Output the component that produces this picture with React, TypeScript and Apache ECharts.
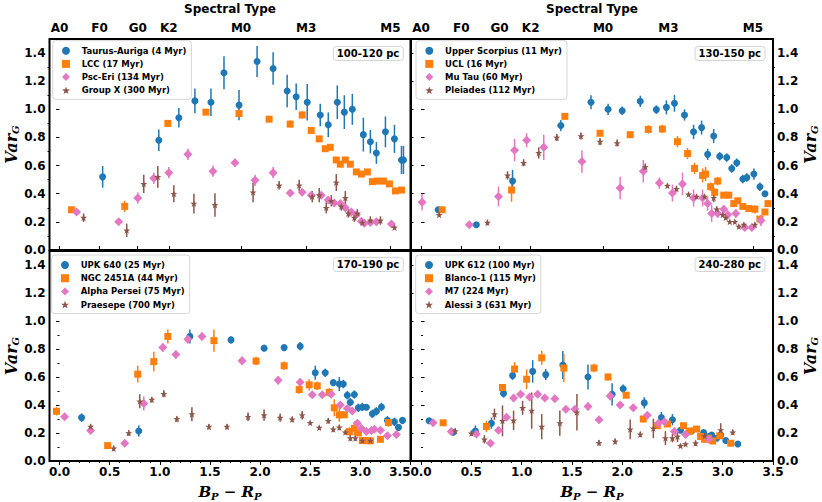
import React, { useEffect, useRef } from "react";
import * as echarts from "echarts";

// ---------- data: [B_P - R_P, Var_G, error] ----------
// Panel 1: 100-120 pc
const taurusAuriga = [[0.43,0.52,0.077],[0.99,0.78,0.076],[1.19,0.94,0.069],[1.35,1.06,0.088],[1.51,1.05,0.098],[1.64,1.26,0.117],[1.79,1.03,0.107],[1.97,1.34,0.11],[2.13,1.29,0.115],[2.27,1.13,0.115],[2.36,1.09,0.094],[2.47,1.05,0.13],[2.60,0.96,0.08],[2.68,0.89,0.088],[2.77,1.05,0.12],[2.84,0.98,0.12],[2.92,1.00,0.11],[3.03,0.82,0.12],[3.10,0.77,0.083],[3.16,0.69,0.077],[3.25,0.84,0.11],[3.34,0.79,0.10],[3.41,0.64,0.10],[3.43,0.64,0.10]];
const lcc = [[0.12,0.286,0.015],[0.65,0.31,0.04],[1.08,0.90,0.02],[1.46,0.98,0.02],[1.79,0.97,0.025],[2.09,0.93,0.02],[2.30,0.895,0.025],[2.42,0.96,0.025],[2.51,0.85,0.025],[2.59,0.79,0.02],[2.65,0.72,0.02],[2.70,0.73,0.02],[2.76,0.64,0.02],[2.80,0.61,0.02],[2.85,0.64,0.02],[2.90,0.61,0.02],[2.96,0.555,0.02],[3.01,0.54,0.02],[3.07,0.555,0.02],[3.12,0.486,0.02],[3.17,0.49,0.02],[3.23,0.49,0.02],[3.29,0.47,0.02],[3.35,0.42,0.02],[3.41,0.426,0.02]];
const pscEri = [[0.17,0.27,0.015],[0.59,0.20,0.02],[0.78,0.37,0.04],[0.94,0.51,0.04],[1.09,0.55,0.04],[1.28,0.68,0.04],[1.53,0.56,0.04],[1.75,0.62,0.03],[1.95,0.495,0.04],[2.13,0.55,0.04],[2.30,0.405,0.02],[2.42,0.41,0.02],[2.51,0.39,0.02],[2.61,0.39,0.02],[2.68,0.355,0.02],[2.74,0.335,0.02],[2.80,0.33,0.02],[2.85,0.30,0.02],[2.91,0.27,0.02],[2.96,0.25,0.02],[3.01,0.205,0.02],[3.04,0.19,0.015],[3.10,0.195,0.015],[3.16,0.20,0.015],[3.31,0.185,0.015]];
const groupX = [[0.24,0.23,0.03],[0.67,0.14,0.048],[0.84,0.47,0.065],[0.98,0.52,0.077],[1.14,0.40,0.06],[1.34,0.33,0.07],[1.55,0.32,0.083],[1.93,0.41,0.07],[2.19,0.46,0.03],[2.39,0.46,0.04],[2.52,0.38,0.04],[2.59,0.39,0.05],[2.66,0.30,0.04],[2.71,0.35,0.04],[2.76,0.48,0.06],[2.81,0.31,0.03],[2.85,0.37,0.05],[2.88,0.26,0.03],[2.94,0.23,0.03],[2.97,0.26,0.03],[3.02,0.195,0.02],[3.10,0.21,0.03],[3.20,0.21,0.03],[3.34,0.16,0.01]];

// Panel 2: 130-150 pc
const upperSco = [[0.17,0.286,0.015],[0.55,0.18,0.015],[0.91,0.49,0.08],[1.39,0.885,0.04],[1.69,1.05,0.05],[1.86,1.00,0.04],[2.00,0.99,0.03],[2.18,1.057,0.04],[2.34,0.998,0.03],[2.44,1.014,0.05],[2.52,1.043,0.06],[2.62,0.96,0.04],[2.71,0.84,0.05],[2.79,0.87,0.05],[2.85,0.68,0.04],[2.91,0.81,0.05],[2.97,0.666,0.03],[3.04,0.657,0.03],[3.09,0.58,0.03],[3.14,0.62,0.03],[3.20,0.505,0.03],[3.24,0.516,0.03],[3.31,0.54,0.04],[3.37,0.45,0.03],[3.42,0.40,0.02]];
const ucl = [[0.21,0.286,0.02],[0.90,0.426,0.083],[1.43,0.95,0.02],[1.78,0.83,0.02],[2.08,0.82,0.02],[2.26,0.857,0.03],[2.40,0.86,0.03],[2.55,0.77,0.04],[2.65,0.686,0.04],[2.72,0.58,0.04],[2.80,0.53,0.05],[2.83,0.54,0.05],[2.88,0.45,0.03],[2.92,0.41,0.03],[2.95,0.49,0.03],[3.01,0.39,0.02],[3.06,0.39,0.02],[3.11,0.33,0.02],[3.15,0.35,0.02],[3.20,0.31,0.02],[3.26,0.295,0.02],[3.32,0.29,0.03],[3.37,0.22,0.02],[3.42,0.27,0.02],[3.45,0.33,0.015]];
const muTau = [[0.01,0.34,0.06],[0.48,0.18,0.015],[0.77,0.38,0.07],[0.93,0.71,0.08],[1.05,0.78,0.05],[1.22,0.73,0.09],[1.60,0.63,0.08],[1.98,0.44,0.08],[2.21,0.56,0.08],[2.37,0.476,0.04],[2.50,0.405,0.06],[2.60,0.47,0.08],[2.71,0.37,0.06],[2.80,0.37,0.06],[2.85,0.33,0.05],[2.89,0.26,0.06],[2.95,0.26,0.03],[3.01,0.29,0.03],[3.05,0.25,0.03],[3.13,0.26,0.03],[3.22,0.16,0.015],[3.29,0.16,0.015],[3.38,0.21,0.04]];
const pleiades = [[0.18,0.25,0.015],[0.66,0.195,0.02],[0.86,0.53,0.03],[1.02,0.62,0.025],[1.17,0.69,0.04],[1.35,0.80,0.025],[1.59,0.81,0.025],[1.78,0.77,0.025],[1.95,0.76,0.025],[2.23,0.59,0.025],[2.45,0.457,0.015],[2.54,0.435,0.02],[2.66,0.395,0.015],[2.74,0.38,0.015],[2.82,0.38,0.015],[2.91,0.37,0.03],[2.94,0.29,0.02],[3.00,0.25,0.015],[3.03,0.23,0.015],[3.07,0.20,0.015],[3.12,0.20,0.015],[3.16,0.167,0.015],[3.21,0.18,0.015],[3.32,0.18,0.015]];

// Panel 3: 170-190 pc
const upk640 = [[0.22,0.31,0.03],[0.79,0.214,0.04],[1.30,0.89,0.05],[1.71,0.865,0.025],[2.04,0.806,0.02],[2.24,0.81,0.02],[2.40,0.82,0.03],[2.55,0.63,0.05],[2.65,0.63,0.03],[2.73,0.56,0.02],[2.79,0.55,0.05],[2.83,0.55,0.03],[2.87,0.47,0.03],[2.90,0.42,0.03],[2.94,0.475,0.03],[2.98,0.38,0.03],[3.02,0.386,0.03],[3.06,0.384,0.02],[3.12,0.337,0.03],[3.16,0.355,0.03],[3.21,0.386,0.03],[3.27,0.29,0.03],[3.34,0.28,0.03],[3.38,0.24,0.02],[3.42,0.29,0.015]];
const ngc2451a = [[-0.03,0.355,0.03],[0.48,0.11,0.015],[0.78,0.62,0.06],[0.94,0.71,0.07],[1.08,0.89,0.05],[1.54,0.86,0.08],[1.96,0.714,0.03],[2.24,0.68,0.03],[2.39,0.51,0.03],[2.49,0.544,0.04],[2.57,0.537,0.03],[2.69,0.49,0.03],[2.74,0.38,0.06],[2.79,0.33,0.05],[2.84,0.33,0.02],[2.89,0.21,0.03],[2.94,0.233,0.05],[2.98,0.20,0.02],[3.02,0.146,0.015],[3.06,0.146,0.015],[3.10,0.144,0.015],[3.20,0.155,0.015],[3.28,0.275,0.03]];
const alphaPer = [[0.05,0.316,0.015],[0.31,0.217,0.02],[0.65,0.127,0.015],[0.84,0.41,0.05],[1.03,0.81,0.03],[1.16,0.76,0.03],[1.28,0.87,0.03],[1.42,0.89,0.03],[1.82,0.716,0.03],[2.18,0.577,0.03],[2.40,0.563,0.03],[2.52,0.473,0.02],[2.62,0.473,0.02],[2.71,0.476,0.02],[2.80,0.40,0.02],[2.87,0.375,0.02],[2.92,0.358,0.02],[2.97,0.27,0.02],[3.01,0.233,0.02],[3.06,0.21,0.015],[3.11,0.217,0.015],[3.14,0.226,0.015],[3.20,0.22,0.015],[3.27,0.18,0.015],[3.36,0.19,0.015]];
const praesepe = [[0.31,0.245,0.02],[0.54,0.09,0.02],[0.69,0.20,0.02],[0.80,0.426,0.05],[0.92,0.438,0.02],[1.04,0.48,0.025],[1.17,0.30,0.02],[1.32,0.334,0.05],[1.49,0.245,0.02],[1.67,0.245,0.02],[1.88,0.316,0.03],[2.04,0.327,0.04],[2.20,0.31,0.03],[2.32,0.297,0.02],[2.42,0.327,0.03],[2.50,0.273,0.015],[2.59,0.238,0.015],[2.68,0.287,0.02],[2.73,0.226,0.02],[2.79,0.24,0.02],[2.85,0.205,0.015],[2.90,0.163,0.02],[2.95,0.163,0.02],[3.02,0.146,0.015],[3.10,0.146,0.015]];

// Panel 4: 240-280 pc
const upk612 = [[0.08,0.287,0.02],[0.32,0.205,0.015],[0.54,0.214,0.04],[0.70,0.27,0.04],[0.82,0.483,0.03],[0.91,0.61,0.03],[1.11,0.64,0.08],[1.24,0.617,0.04],[1.41,0.686,0.10],[1.66,0.60,0.09],[1.90,0.476,0.08],[2.01,0.516,0.03],[2.22,0.415,0.04],[2.39,0.31,0.04],[2.50,0.295,0.04],[2.58,0.22,0.02],[2.69,0.214,0.015],[2.81,0.203,0.02],[2.86,0.175,0.02],[2.89,0.186,0.02],[2.94,0.163,0.015],[2.98,0.186,0.02],[3.03,0.146,0.02],[3.15,0.122,0.01]];
const blanco1 = [[0.22,0.273,0.02],[0.65,0.247,0.04],[0.81,0.525,0.02],[0.93,0.657,0.05],[1.05,0.584,0.07],[1.20,0.737,0.05],[1.42,0.664,0.1],[1.72,0.664,0.03],[1.86,0.60,0.025],[2.04,0.47,0.02],[2.21,0.30,0.025],[2.35,0.252,0.02],[2.45,0.264,0.02],[2.61,0.252,0.02],[2.67,0.214,0.02],[2.74,0.228,0.02],[2.78,0.175,0.02],[2.82,0.155,0.02],[2.86,0.163,0.02],[2.90,0.143,0.015],[2.97,0.18,0.02],[3.08,0.127,0.01]];
const m7 = [[0.12,0.273,0.015],[0.30,0.21,0.015],[0.55,0.193,0.015],[0.69,0.127,0.015],[0.77,0.22,0.015],[0.85,0.313,0.015],[0.92,0.45,0.02],[0.99,0.476,0.02],[1.08,0.457,0.015],[1.16,0.476,0.015],[1.23,0.45,0.02],[1.33,0.445,0.02],[1.44,0.37,0.02],[1.53,0.37,0.02],[1.66,0.39,0.03],[1.77,0.295,0.02],[1.88,0.464,0.03],[1.98,0.40,0.02],[2.11,0.38,0.02],[2.25,0.327,0.02],[2.36,0.27,0.02],[2.42,0.28,0.02],[2.52,0.21,0.015],[2.63,0.19,0.015],[2.86,0.157,0.015]];
const alessi3 = [[0.34,0.214,0.02],[0.50,0.198,0.02],[0.63,0.155,0.03],[0.73,0.334,0.04],[0.81,0.287,0.11],[0.92,0.29,0.07],[1.01,0.38,0.05],[1.10,0.36,0.13],[1.20,0.245,0.09],[1.38,0.27,0.09],[1.55,0.348,0.13],[1.77,0.13,0.02],[1.93,0.14,0.02],[2.08,0.226,0.07],[2.18,0.19,0.02],[2.31,0.233,0.07],[2.43,0.163,0.05],[2.50,0.163,0.03],[2.55,0.175,0.04],[2.58,0.108,0.015],[2.63,0.12,0.015],[2.73,0.127,0.02],[2.82,0.179,0.02],[2.98,0.22,0.05],[3.10,0.205,0.02]];

// ---------- labels / ticks ----------
const spectralTypes = ["A0", "F0", "G0", "K2", "M0", "M3", "M5"];
const spectralColours = [0.0, 0.40, 0.78, 1.09, 1.81, 2.46, 3.30];
const xMajor = [0, 0.5, 1, 1.5, 2, 2.5, 3, 3.5];
const yMajor = [0, 0.2, 0.4, 0.6, 0.8, 1.0, 1.2, 1.4];
const panelLabels = ["100-120 pc", "130-150 pc", "170-190 pc", "240-280 pc"];
const seriesNames = [
  ["Taurus-Auriga (4 Myr)", "LCC (17 Myr)", "Psc-Eri (134 Myr)", "Group X (300 Myr)"],
  ["Upper Scorpius (11 Myr)", "UCL (16 Myr)", "Mu Tau (60 Myr)", "Pleiades (112 Myr)"],
  ["UPK 640 (25 Myr)", "NGC 2451A (44 Myr)", "Alpha Persei (75 Myr)", "Praesepe (700 Myr)"],
  ["UPK 612 (100 Myr)", "Blanco-1 (115 Myr)", "M7 (224 Myr)", "Alessi 3 (631 Myr)"],
];
const seriesData = [
  [taurusAuriga, lcc, pscEri, groupX],
  [upperSco, ucl, muTau, pleiades],
  [upk640, ngc2451a, alphaPer, praesepe],
  [upk612, blanco1, m7, alessi3],
];

// ---------- styling ----------
const SANS = "DejaVu Sans";
const SERIF = "DejaVu Serif";
const STAR =
  "path://M0,-10L2.35,-3.24L9.51,-3.09L3.8,1.24L5.88,8.09L0,4L-5.88,8.09L-3.8,1.24L-9.51,-3.09L-2.35,-3.24Z";
const COLORS = ["#1f77b4", "#ff7f0e", "#e377c2", "#8c564b"];
const SYMBOLS = ["circle", "rect", "diamond", STAR];
const SIZES = [7, 7, 9, 7];

const GRIDS = [
  { left: 49.5, top: 39, width: 361, height: 211 },
  { left: 411, top: 39, width: 362, height: 211 },
  { left: 49.5, top: 251, width: 361, height: 212 },
  { left: 411, top: 251, width: 362, height: 212 },
];
const LEGEND_POS = [
  { left: 52.7, top: 40.7 },
  { left: 416, top: 40.7 },
  { left: 51.7, top: 255 },
  { left: 415.7, top: 255 },
];
const LABEL_POS = [
  { right: 418.7, top: 46 },
  { right: 57, top: 46 },
  { right: 418.7, top: 257 },
  { right: 57, top: 257 },
];

const r1 = (v: number) => Math.round(v * 10) / 10;
const xMinor: number[] = [];
for (let k = 0; k <= 35; k++) {
  const v = r1(k * 0.1);
  if (Math.abs(v * 2 - Math.round(v * 2)) > 1e-6) xMinor.push(v);
}
const yMinor: number[] = [];
for (let k = 1; k <= 13; k += 2) yMinor.push(r1(k * 0.1));

const tickLine = { color: "#000", width: 1 };
const labelStyle = { fontSize: 12, fontWeight: "bold", color: "#000", fontFamily: SANS };

function buildOption() {
  const xAxis: any[] = [];
  const yAxis: any[] = [];
  const series: any[] = [];

  GRIDS.forEach((_, i) => {
    const isTop = i < 2;
    const isLeft = i % 2 === 0;
    const xi = xAxis.length;
    if (isTop) {
      xAxis.push({
        type: "value", gridIndex: i, position: "top", min: -0.1, max: 3.5,
        axisLine: { show: false }, splitLine: { show: false },
        axisTick: { show: true, customValues: spectralColours, length: 4, lineStyle: tickLine },
        axisLabel: {
          show: true, customValues: spectralColours, margin: 5, ...labelStyle,
          formatter: (v: number) => {
            const k = spectralColours.findIndex((c) => Math.abs(c - v) < 1e-6);
            return k >= 0 ? spectralTypes[k] : "";
          },
        },
        name: "Spectral Type", nameLocation: "middle", nameGap: 24,
        nameTextStyle: { fontSize: 12, fontWeight: "bold", color: "#000", fontFamily: SANS },
      });
    } else {
      xAxis.push({
        type: "value", gridIndex: i, position: "bottom", min: -0.1, max: 3.5,
        axisLine: { show: false }, splitLine: { show: false },
        axisTick: { show: true, customValues: xMajor, length: 4, lineStyle: tickLine },
        axisLabel: {
          show: true, customValues: xMajor, margin: 5, ...labelStyle,
          alignMaxLabel: isLeft ? "right" : undefined,
          formatter: (v: number) => v.toFixed(1),
        },
        name: "{i|B}{s|P}{i| − R}{s|P}", nameLocation: "middle", nameGap: 22,
        nameTextStyle: {
          rich: {
            i: { fontFamily: SERIF, fontStyle: "italic", fontWeight: "bold", fontSize: 15, color: "#000" },
            s: { fontFamily: SERIF, fontStyle: "italic", fontWeight: "bold", fontSize: 10, color: "#000", padding: [8, 0, 0, 0] },
          },
        },
      });
      xAxis.push({
        type: "value", gridIndex: i, position: "bottom", min: -0.1, max: 3.5,
        axisLine: { show: false }, splitLine: { show: false }, axisLabel: { show: false },
        axisTick: { show: true, customValues: xMinor, length: 2, lineStyle: tickLine },
      });
    }
    const yi = yAxis.length;
    yAxis.push({
      type: "value", gridIndex: i, position: isLeft ? "left" : "right", min: 0, max: 1.5,
      axisLine: { show: false }, splitLine: { show: false },
      axisTick: { show: true, customValues: yMajor, length: 3.5, lineStyle: tickLine },
      axisLabel: { show: true, customValues: yMajor, margin: 4, ...labelStyle, formatter: (v: number) => v.toFixed(1) },
      name: "{v|Var}{s|G}", nameLocation: "middle", nameRotate: 90, nameGap: isLeft ? 19 : 22,
      nameTextStyle: {
        rich: {
          v: { fontFamily: SERIF, fontStyle: "italic", fontWeight: "bold", fontSize: 16, color: "#000" },
          s: { fontFamily: SERIF, fontStyle: "italic", fontWeight: "bold", fontSize: 10, color: "#000", padding: [8, 0, 0, 0] },
        },
      },
    });
    yAxis.push({
      type: "value", gridIndex: i, position: isLeft ? "left" : "right", min: 0, max: 1.5,
      axisLine: { show: false }, splitLine: { show: false }, axisLabel: { show: false },
      axisTick: { show: true, customValues: yMinor, length: 2, lineStyle: tickLine },
    });
    if (isLeft) {
      yAxis.push({
        type: "value", gridIndex: i, position: "right", min: 0, max: 1.5,
        axisLine: { show: false }, splitLine: { show: false }, axisLabel: { show: false },
        axisTick: { show: true, customValues: yMajor, length: 3, lineStyle: tickLine },
      });
    }

    seriesData[i].forEach((data, k) => {
      const color = COLORS[k];
      series.push({
        type: "custom",
        name: `err-${i}-${k}`,
        xAxisIndex: xi, yAxisIndex: yi,
        data,
        encode: { x: 0, y: 1 },
        silent: true,
        z: 2,
        renderItem: (_p: any, api: any) => {
          const x = api.value(0), y = api.value(1), e = api.value(2);
          const a = api.coord([x, y - e]);
          const b = api.coord([x, y + e]);
          return {
            type: "line",
            shape: { x1: a[0], y1: a[1], x2: b[0], y2: b[1] },
            style: { stroke: color, lineWidth: 1.5 },
          };
        },
      });
      series.push({
        type: "scatter",
        name: seriesNames[i][k],
        xAxisIndex: xi, yAxisIndex: yi,
        data: data.map((d) => [d[0], d[1]]),
        symbol: SYMBOLS[k],
        symbolSize: SIZES[k],
        itemStyle: { color, opacity: 1 },
        z: 2,
      });
    });
  });

  return {
    animation: false,
    backgroundColor: "#fff",
    textStyle: { fontFamily: SANS },
    grid: GRIDS.map((g) => ({ ...g, show: true, borderColor: "#000", borderWidth: 2, backgroundColor: "transparent", containLabel: false })),
    xAxis,
    yAxis,
    legend: GRIDS.map((_, i) => ({
      data: seriesNames[i].map((n, k) => ({ name: n, icon: SYMBOLS[k] })),
      ...LEGEND_POS[i],
      orient: "vertical",
      itemWidth: 8,
      itemHeight: 8,
      itemGap: 3.2,
      padding: [5, 5, 4, 9.3],
      backgroundColor: "#fff",
      borderColor: "#d5d5d5",
      borderWidth: 1,
      borderRadius: 3,
      selectedMode: false,
      textStyle: { fontSize: 8.5, lineHeight: 10, fontWeight: "bold", color: "#000", fontFamily: SANS, padding: [0, 0, 0, 6.7] },
    })),
    title: panelLabels.map((t, i) => ({
      text: t,
      ...LABEL_POS[i],
      padding: [2, 4, 2, 4],
      backgroundColor: "#fff",
      borderColor: "#d5d5d5",
      borderWidth: 1,
      borderRadius: 3,
      textStyle: { fontSize: 10, lineHeight: 11, fontWeight: "bold", color: "#000", fontFamily: SANS },
    })),
    series,
  };
}

export default function App() {
  const ref = useRef<HTMLDivElement>(null);
  useEffect(() => {
    const chart = echarts.init(ref.current as HTMLDivElement, null, { renderer: "svg" });
    chart.setOption(buildOption() as any);
    return () => chart.dispose();
  }, []);
  return (
    <div
      ref={ref}
      style={{ position: "fixed", left: 0, top: 0, width: 822, height: 502, background: "#fff" }}
    />
  );
}
